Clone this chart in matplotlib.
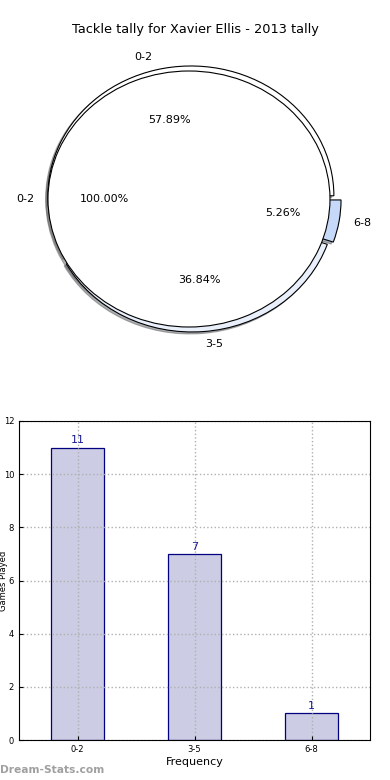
import matplotlib
matplotlib.use("Agg")
import matplotlib.pyplot as plt
import numpy as np

# data
title = "Tackle tally for Xavier Ellis - 2013 tally"
ring_labels = ["0-2", "3-5", "6-8"]
ring_counts = [11, 7, 1]
inner_labels = ["0-2"]
inner_counts = [1]
bar_labels = ["0-2", "3-5", "6-8"]
bar_values = [11, 7, 1]

ring_colors = ["#ffffff", "#e9f0fc", "#c6d9f9"]
bar_face = "#ccccE4"
bar_edge = "#000080"

W, H = 390, 780
fig = plt.figure(figsize=(W / 100, H / 100), dpi=100)

# ---- pie (axes placed in pixel units, non-equal aspect -> ellipse)
rx, ry = 141.0, 128.0  # pixels per data unit
cx_pix, cy_pix = 191.8, 199.0
lim = 1.3
ax_w, ax_h = 2 * lim * rx, 2 * lim * ry
pie_ax = fig.add_axes([(cx_pix - ax_w / 2) / W, (H - cy_pix - ax_h / 2) / H,
                       ax_w / W, ax_h / H])

wp = dict(edgecolor="black", linewidth=0.8)
shadow = {"ox": -0.011, "oy": -0.011, "shade": 0.6}
pie_ax.pie(ring_counts, labels=ring_labels, colors=ring_colors, radius=1.014,
           explode=[0.026, 0.025, 0.045], autopct="%.2f%%", shadow=shadow,
           wedgeprops=wp, textprops=dict(fontsize=8))
pie_ax.pie(inner_counts, labels=inner_labels, colors=["#ffffff"], radius=1.0,
           explode=[0.02], autopct="%.2f%%", shadow=shadow,
           wedgeprops=wp, textprops=dict(fontsize=8))
pie_ax.set_aspect("auto")
pie_ax.set_xlim(-lim, lim)
pie_ax.set_ylim(-lim, lim)
pie_ax.axis("off")

fig.text(0.5, 1 - 30 / H, title, ha="center", va="center", fontsize=9.3)

# ---- bar chart
bar_ax = fig.add_axes([19 / W, 40 / H, 351 / W, 319 / H])
x = np.arange(len(bar_values))
bar_ax.bar(x, bar_values, width=0.45, color=bar_face,
           edgecolor=bar_edge, linewidth=0.9, zorder=1)
for xi, v in zip(x, bar_values):
    bar_ax.text(xi, v + 0.08, str(v), ha="center", va="bottom",
                fontsize=8, color="#1a1a96")
bar_ax.set_xlim(-0.5, 2.5)
bar_ax.set_ylim(0, 12)
bar_ax.set_xticks(x)
bar_ax.set_xticklabels(bar_labels)
bar_ax.set_yticks(range(0, 13, 2))
bar_ax.tick_params(labelsize=6, direction="in", length=3)
bar_ax.grid(True, linestyle=":", color="#b0b0b0", linewidth=1)
bar_ax.set_axisbelow(False)
for sp in bar_ax.spines.values():
    sp.set_zorder(3)
bar_ax.set_xlabel("Frequency", fontsize=8, labelpad=2)
bar_ax.set_ylabel("Games Played", fontsize=6)
bar_ax.yaxis.set_label_coords(-0.03, 0.5)

fig.text(0.0, 1 - 770 / H, "Dream-Stats.com", ha="left", va="center",
         fontsize=7.7, fontweight="bold", color="#a0a0a0")

fig.savefig("out.png", dpi=100)
